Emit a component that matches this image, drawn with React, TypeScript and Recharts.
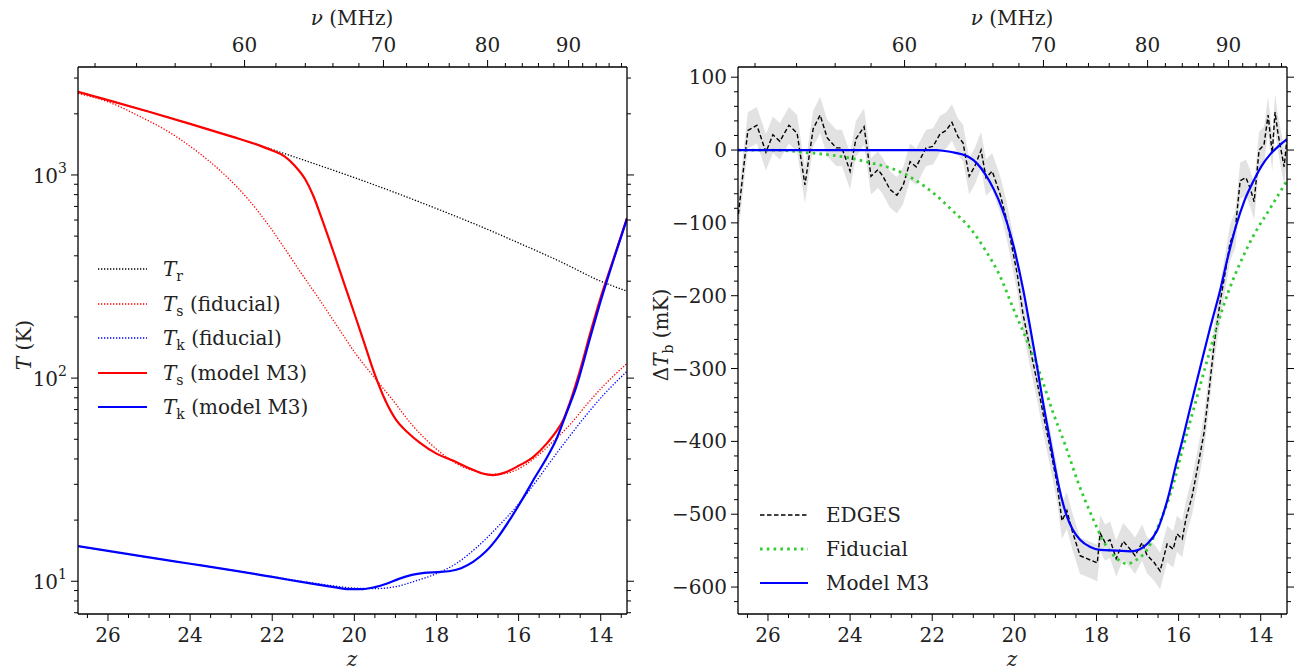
import React from "react";
import { ComposedChart, Line, Area, XAxis, YAxis } from "recharts";

const FONT = "DejaVu Serif, serif";
const NU21 = 1420.4; // MHz, rest frequency of the 21-cm line
const Z_LO = 13.36;
const Z_HI = 26.73;
const T_LO = 6.9;
const T_HI = 3400;
const DT_LO = -637;
const DT_HI = 114;

// ---- left panel: temperatures (K) against redshift
const trZ = [26.73, 26, 25, 24, 23, 22, 21, 20, 19, 18, 17, 16, 15, 14, 13.36];
const trT = [2566, 2337, 2048, 1785, 1548, 1334, 1141, 970, 818, 683, 566, 463, 376, 300, 268];

const tsFidZ = [26.73, 26, 25.2, 24.5, 23.88, 23.2, 22.57, 22.1, 21.72, 21.3, 20.84, 20.4, 19.97, 19.5, 19, 18.6, 18.24, 17.9, 17.53, 17.1, 16.68, 16.3, 16.07, 15.6, 15.2, 14.75, 14.32, 13.9, 13.36];
const tsFidT = [2520, 2290, 1931, 1620, 1328, 1020, 753, 570, 442, 330, 242, 178, 132, 100, 75, 59, 49.5, 43, 38.1, 35, 33.6, 34, 35.2, 40.5, 47.9, 59, 75, 93, 118];

const tkFidZ = [26.73, 26, 25, 24, 23, 22, 21, 20.5, 20, 19.5, 19, 18.5, 18, 17.5, 17, 16.5, 16, 15.5, 15.2, 14.75, 14.32, 13.9, 13.36];
const tkFidT = [14.9, 14.1, 13.1, 12.2, 11.35, 10.55, 9.8, 9.48, 9.25, 9.2, 9.4, 10.05, 10.9, 12.3, 14.8, 18.6, 24, 32.5, 39.4, 52, 67, 84, 108];

const tsM3Z = [26.73, 26, 25, 24, 23, 22.3, 22, 21.7, 21.45, 21.2, 21, 20.8, 20.5, 20.25, 20, 19.75, 19.5, 19.25, 19, 18.7, 18.4, 18, 17.6, 17.2, 16.9, 16.63, 16.3, 16, 15.64, 15.3, 15.1, 14.9, 14.76, 14.5, 14.25, 14, 13.7, 13.36];
const tsM3T = [2566, 2337, 2048, 1785, 1548, 1395, 1320, 1235, 1110, 955, 790, 615, 413, 293, 208, 147, 104, 78, 63, 54, 48, 42.5, 39.3, 36, 34, 33.3, 34.5, 37, 41, 48, 54, 63, 75, 110, 168, 250, 380, 614];

const tkM3Z = [26.73, 26, 25, 24, 23, 22, 21, 20.5, 20.14, 19.8, 19.5, 19.2, 18.9, 18.6, 18.3, 17.97, 17.7, 17.4, 17.1, 16.8, 16.5, 16.2, 15.9, 15.6, 15.3, 15.1, 14.85, 14.6, 14.25, 14, 13.7, 13.36];
const tkM3T = [14.9, 14.1, 13.1, 12.2, 11.35, 10.5, 9.7, 9.35, 9.15, 9.15, 9.35, 9.75, 10.3, 10.75, 11.0, 11.1, 11.2, 11.6, 12.5, 14.0, 16.5, 20.3, 25.5, 32.5, 41, 49, 66, 90, 160, 240, 375, 610];

// ---- right panel: 21-cm brightness temperature (mK)
const edgesZ = [26.72, 26.49, 26.27, 26.05, 25.88, 25.71, 25.49, 25.29, 25.1, 24.9, 24.73, 24.56, 24.34, 24.2, 24.0, 23.86, 23.66, 23.49, 23.32, 23.2, 23.03, 22.86, 22.71, 22.54, 22.39, 22.15, 21.98, 21.81, 21.66, 21.52, 21.37, 21.25, 21.1, 20.96, 20.81, 20.69, 20.54, 20.35, 20.2, 20.1, 19.93, 19.79, 19.62, 19.45, 19.3, 19.13, 18.96, 18.84, 18.72, 18.59, 18.4, 18.23, 17.98, 17.91, 17.79, 17.67, 17.52, 17.35, 17.18, 17.06, 16.89, 16.77, 16.6, 16.45, 16.28, 16.13, 16.04, 15.91, 15.82, 15.67, 15.5, 15.38, 15.26, 15.13, 14.99, 14.87, 14.75, 14.62, 14.5, 14.36, 14.26, 14.16, 14.04, 13.92, 13.82, 13.72, 13.65, 13.58, 13.43, 13.36];
const edgesT = [-88, 27, 34, -3, 21, 12, 34, 23, -48, 29, 48, 17, 3, 3, -29, 15, 32, -36, -27, -36, -54, -62, -49, -16, -23, 3, 5, 22, 27, 38, 18, 10, -36, -22, 0, -38, -29, -60, -93, -121, -170, -225, -272, -317, -362, -409, -458, -509, -495, -523, -557, -561, -567, -526, -539, -535, -561, -537, -548, -557, -539, -556, -566, -578, -541, -548, -527, -534, -506, -475, -425, -388, -331, -265, -209, -170, -128, -109, -42, -38, -52, -71, 0, 7, 48, -4, 52, 23, -23, 15];
const EDGES_ERR = 25;

const fidZ = [26.73, 26, 25.5, 25.17, 24.6, 24.1, 23.54, 22.95, 22.39, 21.91, 21.49, 21.08, 20.7, 20.35, 20.03, 19.69, 19.37, 19.06, 18.76, 18.45, 18.11, 17.79, 17.5, 17.25, 17.01, 16.77, 16.45, 16.16, 15.91, 15.63, 15.35, 15.07, 14.79, 14.5, 14.2, 13.77, 13.36];
const fidT = [0, 0, -1, -3, -6, -10, -17, -26, -42, -62, -84, -107, -138, -173, -217, -262, -308, -360, -405, -456, -503, -541, -561, -568, -562, -549, -510, -465, -412, -355, -298, -243, -195, -155, -120, -80, -42];

const m3Z = [26.73, 24, 22.5, 21.9, 21.74, 21.5, 21.3, 21.13, 20.9, 20.71, 20.5, 20.3, 20.15, 20.01, 19.79, 19.62, 19.45, 19.3, 19.13, 18.96, 18.84, 18.72, 18.59, 18.4, 18.15, 17.91, 17.5, 17.18, 16.94, 16.77, 16.52, 16.28, 16.04, 15.91, 15.7, 15.48, 15.25, 14.99, 14.8, 14.6, 14.4, 14.18, 13.98, 13.77, 13.55, 13.36];
const m3T = [0, 0, 0, 0, -1, -3, -5.5, -9, -19, -33, -54, -80, -105, -134, -190, -242, -296, -347, -399, -450, -480, -503, -520, -535, -545, -549, -550, -551, -548, -541, -522, -482, -427, -399, -350, -300, -248, -193, -147, -104, -70, -43, -22, -6, 6, 15];

// ---- ticks
const zTicks = [26.5, 26, 25.5, 25, 24.5, 24, 23.5, 23, 22.5, 22, 21.5, 21, 20.5, 20, 19.5, 19, 18.5, 18, 17.5, 17, 16.5, 16, 15.5, 15, 14.5, 14, 13.5];
const nuTicks = [52, 54, 56, 58, 60, 62, 64, 66, 68, 70, 72, 74, 76, 78, 80, 82, 84, 86, 88, 90, 92, 94, 96, 98];
const tTicks = [7, 8, 9, 10, 20, 30, 40, 50, 60, 70, 80, 90, 100, 200, 300, 400, 500, 600, 700, 800, 900, 1000, 2000, 3000];
const dtTicks = [-620, -600, -580, -560, -540, -520, -500, -480, -460, -440, -420, -400, -380, -360, -340, -320, -300, -280, -260, -240, -220, -200, -180, -160, -140, -120, -100, -80, -60, -40, -20, 0, 20, 40, 60, 80, 100];

const nuTicksZ = nuTicks.map((nu) => NU21 / nu - 1);
const pts = (zs: number[], vs: number[]) => zs.map((z, i) => ({ z, v: vs[i] }));
const edgesBand = edgesZ.map((z, i) => ({ z, range: [edgesT[i] - EDGES_ERR, edgesT[i] + EDGES_ERR] }));

const MAJOR = 7;
const MINOR = 4;
const txt = { fontSize: 20, fontFamily: FONT, fill: "#222" };

function BottomTick({ x, y, payload }: any) {
  const v = payload.value;
  const major = v % 2 === 0;
  return (
    <g>
      <line x1={x} y1={y} x2={x} y2={y + (major ? MAJOR : MINOR)} stroke="#000" strokeWidth={1} />
      {major && (
        <text x={x} y={y + 28} textAnchor="middle" {...txt}>
          {v}
        </text>
      )}
    </g>
  );
}

function TopTick({ x, y, payload }: any) {
  const nu = Math.round(NU21 / (1 + payload.value));
  const major = nu % 10 === 0;
  return (
    <g>
      <line x1={x} y1={y} x2={x} y2={y - (major ? MAJOR : MINOR)} stroke="#000" strokeWidth={1} />
      {major && (
        <text x={x} y={y - 15} textAnchor="middle" {...txt}>
          {nu}
        </text>
      )}
    </g>
  );
}

function LogLeftTick({ x, y, payload }: any) {
  const e = Math.log10(payload.value);
  const major = Math.abs(e - Math.round(e)) < 1e-6;
  return (
    <g>
      <line x1={x} y1={y} x2={x - (major ? MAJOR : MINOR)} y2={y} stroke="#000" strokeWidth={1} />
      {major && (
        <text x={x - 11} y={y + 8} textAnchor="end" {...txt}>
          10
          <tspan dy={-10} fontSize={14}>
            {Math.round(e)}
          </tspan>
        </text>
      )}
    </g>
  );
}

function LinLeftTick({ x, y, payload }: any) {
  const v = payload.value;
  const major = v % 100 === 0;
  return (
    <g>
      <line x1={x} y1={y} x2={x - (major ? MAJOR : MINOR)} y2={y} stroke="#000" strokeWidth={1} />
      {major && (
        <text x={x - 11} y={y + 7} textAnchor="end" {...txt}>
          {v < 0 ? "\u2212" + Math.abs(v) : v}
        </text>
      )}
    </g>
  );
}

function MirrorTick({ x, y, payload, log }: any) {
  const v = payload.value;
  let major;
  if (log) {
    const e = Math.log10(v);
    major = Math.abs(e - Math.round(e)) < 1e-6;
  } else {
    major = v % 100 === 0;
  }
  return <line x1={x} y1={y} x2={x + (major ? MAJOR : MINOR)} y2={y} stroke="#000" strokeWidth={1} />;
}

const frame = { stroke: "#000", strokeWidth: 1.3 };

type LegendItem = { label: React.ReactNode; stroke: string; dash?: string; width: number };

function Legend({ items, top, step, lineX, lineW, textX }: { items: LegendItem[]; top: number; step: number; lineX: number; lineW: number; textX: number }) {
  return (
    <>
      {items.map((it, i) => (
        <div key={i} style={{ position: "absolute", left: 0, top: top + i * step - 15, height: 30, width: 400 }}>
          <svg width={lineW + 4} height={30} style={{ position: "absolute", left: lineX - 2, top: 0 }}>
            <line x1={2} y1={15} x2={lineW + 2} y2={15} stroke={it.stroke} strokeWidth={it.width} strokeDasharray={it.dash} />
          </svg>
          <div style={{ position: "absolute", left: textX, top: 0, lineHeight: "30px", fontSize: 20, fontFamily: FONT, whiteSpace: "nowrap", color: "#222" }}>
            {it.label}
          </div>
        </div>
      ))}
    </>
  );
}

const sub = (s: string) => <sub style={{ fontSize: 14, verticalAlign: "-5px", lineHeight: 0 }}>{s}</sub>;
const T = <i>T</i>;

const leftItems: LegendItem[] = [
  { label: <>{T}{sub("r")}</>, stroke: "#000", dash: "1.3 1.7", width: 1.3 },
  { label: <>{T}{sub("s")} (fiducial)</>, stroke: "#ff0000", dash: "1.3 1.7", width: 1.3 },
  { label: <>{T}{sub("k")} (fiducial)</>, stroke: "#0000ff", dash: "1.3 1.7", width: 1.3 },
  { label: <>{T}{sub("s")} (model M3)</>, stroke: "#ff0000", width: 2.2 },
  { label: <>{T}{sub("k")} (model M3)</>, stroke: "#0000ff", width: 2.2 },
];

const rightItems: LegendItem[] = [
  { label: "EDGES", stroke: "#000", dash: "4.5 2.5", width: 1.4 },
  { label: "Fiducial", stroke: "#33cc33", dash: "2.6 4.2", width: 2.8 },
  { label: "Model M3", stroke: "#0000ff", width: 2.2 },
];

export default function App() {
  return (
    <div style={{ position: "absolute", left: 0, top: 0, width: 1305, height: 671, background: "#fff", overflow: "hidden" }}>
      <div style={{ position: "absolute", left: 0, top: 0 }}>
        <ComposedChart width={650} height={671} margin={{ top: 0, right: 0, bottom: 0, left: 0 }}>
          <XAxis xAxisId="z" dataKey="z" type="number" domain={[Z_LO, Z_HI]} reversed allowDataOverflow ticks={zTicks} interval={0} tickSize={0} tickMargin={0} tickLine={false} axisLine={frame} height={57} tick={BottomTick} />
          <XAxis xAxisId="nu" orientation="top" dataKey="z" type="number" domain={[Z_LO, Z_HI]} reversed allowDataOverflow ticks={nuTicksZ} interval={0} tickSize={0} tickMargin={0} tickLine={false} axisLine={frame} height={67} tick={TopTick} />
          <YAxis yAxisId="l" type="number" scale="log" domain={[T_LO, T_HI]} allowDataOverflow ticks={tTicks} interval={0} tickSize={0} tickMargin={0} tickLine={false} axisLine={frame} width={78} tick={LogLeftTick} />
          <YAxis yAxisId="r" orientation="right" type="number" scale="log" domain={[T_LO, T_HI]} allowDataOverflow ticks={tTicks} interval={0} tickSize={0} tickMargin={0} tickLine={false} axisLine={frame} width={23} tick={(p: any) => <MirrorTick {...p} log />} />
          <Line xAxisId="z" yAxisId="l" data={pts(trZ, trT)} dataKey="v" type="monotone" stroke="#000" strokeWidth={1.3} strokeDasharray="1.3 1.7" dot={false} activeDot={false} isAnimationActive={false} />
          <Line xAxisId="z" yAxisId="l" data={pts(tsFidZ, tsFidT)} dataKey="v" type="monotone" stroke="#ff0000" strokeWidth={1.3} strokeDasharray="1.3 1.7" dot={false} activeDot={false} isAnimationActive={false} />
          <Line xAxisId="z" yAxisId="l" data={pts(tkFidZ, tkFidT)} dataKey="v" type="monotone" stroke="#0000ff" strokeWidth={1.3} strokeDasharray="1.3 1.7" dot={false} activeDot={false} isAnimationActive={false} />
          <Line xAxisId="z" yAxisId="l" data={pts(tsM3Z, tsM3T)} dataKey="v" type="monotone" stroke="#ff0000" strokeWidth={2.2} dot={false} activeDot={false} isAnimationActive={false} />
          <Line xAxisId="z" yAxisId="l" data={pts(tkM3Z, tkM3T)} dataKey="v" type="monotone" stroke="#0000ff" strokeWidth={2.2} dot={false} activeDot={false} isAnimationActive={false} />
        </ComposedChart>
      </div>

      <div style={{ position: "absolute", left: 660, top: 0 }}>
        <ComposedChart width={645} height={671} margin={{ top: 0, right: 0, bottom: 0, left: 0 }}>
          <XAxis xAxisId="z" dataKey="z" type="number" domain={[Z_LO, Z_HI]} reversed allowDataOverflow ticks={zTicks} interval={0} tickSize={0} tickMargin={0} tickLine={false} axisLine={frame} height={57} tick={BottomTick} />
          <XAxis xAxisId="nu" orientation="top" dataKey="z" type="number" domain={[Z_LO, Z_HI]} reversed allowDataOverflow ticks={nuTicksZ} interval={0} tickSize={0} tickMargin={0} tickLine={false} axisLine={frame} height={67} tick={TopTick} />
          <YAxis yAxisId="l" type="number" domain={[DT_LO, DT_HI]} allowDataOverflow ticks={dtTicks} interval={0} tickSize={0} tickMargin={0} tickLine={false} axisLine={frame} width={78} tick={LinLeftTick} />
          <YAxis yAxisId="r" orientation="right" type="number" domain={[DT_LO, DT_HI]} allowDataOverflow ticks={dtTicks} interval={0} tickSize={0} tickMargin={0} tickLine={false} axisLine={frame} width={18} tick={(p: any) => <MirrorTick {...p} />} />
          <Area xAxisId="z" yAxisId="l" data={edgesBand} dataKey="range" type="linear" stroke="none" fill="#e2e2e2" fillOpacity={1} dot={false} activeDot={false} isAnimationActive={false} />
          <Line xAxisId="z" yAxisId="l" data={pts(edgesZ, edgesT)} dataKey="v" type="linear" stroke="#000" strokeWidth={1.4} strokeDasharray="4.5 2.5" dot={false} activeDot={false} isAnimationActive={false} />
          <Line xAxisId="z" yAxisId="l" data={pts(fidZ, fidT)} dataKey="v" type="monotone" stroke="#33cc33" strokeWidth={2.8} strokeDasharray="2.6 4.2" dot={false} activeDot={false} isAnimationActive={false} />
          <Line xAxisId="z" yAxisId="l" data={pts(m3Z, m3T)} dataKey="v" type="monotone" stroke="#0000ff" strokeWidth={2.2} dot={false} activeDot={false} isAnimationActive={false} />
        </ComposedChart>
      </div>

      <svg width={1305} height={671} style={{ position: "absolute", left: 0, top: 0, pointerEvents: "none" }}>
        <text x={352} y={25} textAnchor="middle" {...txt}>
          <tspan fontStyle="italic">ν</tspan>
          <tspan> (MHz)</tspan>
        </text>
        <text x={1012} y={25} textAnchor="middle" {...txt}>
          <tspan fontStyle="italic">ν</tspan>
          <tspan> (MHz)</tspan>
        </text>
        <text x={352} y={666} textAnchor="middle" fontStyle="italic" {...txt}>
          z
        </text>
        <text x={1012} y={666} textAnchor="middle" fontStyle="italic" {...txt}>
          z
        </text>
        <text transform="translate(31,345) rotate(-90)" textAnchor="middle" {...txt}>
          <tspan fontStyle="italic">T</tspan>
          <tspan> (K)</tspan>
        </text>
        <text transform="translate(668,335) rotate(-90)" textAnchor="middle" {...txt}>
          <tspan>{"\u0394"}</tspan>
          <tspan fontStyle="italic">T</tspan>
          <tspan fontSize={14} dy={5}>b</tspan>
          <tspan dy={-5}>{"\u00a0(mK)"}</tspan>
        </text>
      </svg>

      <Legend items={leftItems} top={269} step={34.5} lineX={98} lineW={49} textX={163} />
      <Legend items={rightItems} top={515} step={34} lineX={760} lineW={48} textX={826} />
    </div>
  );
}
